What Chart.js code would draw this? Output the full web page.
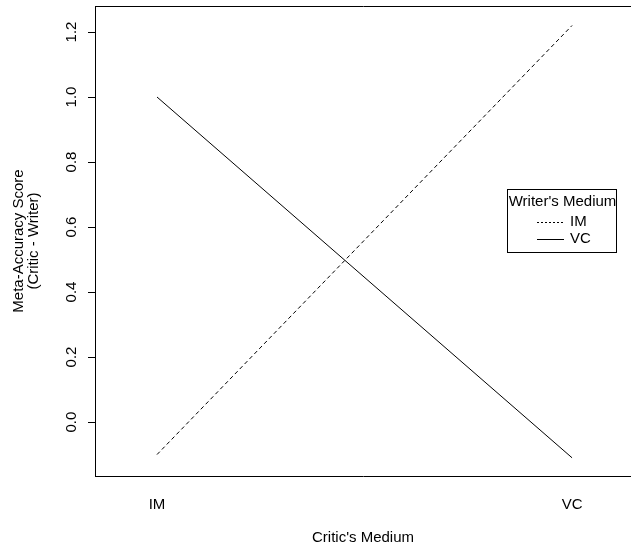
<!DOCTYPE html>
<html>
<head>
<meta charset="utf-8">
<script src="https://cdn.jsdelivr.net/npm/chart.js@4/dist/chart.umd.min.js"></script>
<style>
  html, body { margin: 0; padding: 0; background: #fff; overflow: hidden; }
  #wrap { width: 631px; height: 548px; }
</style>
</head>
<body>
<div id="wrap"><canvas id="myChart" width="631" height="548"></canvas></div>
<script>
// 데이터
const criticMedium = ['IM', 'VC'];
const writerMedium = ['IM', 'VC'];
const scoreWriterIM = [-0.10, 1.22];
const scoreWriterVC = [1.00, -0.11];
const yTicks = [0.0, 0.2, 0.4, 0.6, 0.8, 1.0, 1.2];

const FONT = 'Liberation Sans, Arial, Helvetica, sans-serif';

function toPoints(values) {
    return values.map((v, i) => ({ x: i + 1, y: v }));
}

// 범례 (플롯 안쪽 박스)
const boxLegend = {
    id: 'boxLegend',
    afterDraw(chart) {
        const c = chart.ctx;
        const x0 = 507, y0 = 189, w = 109, h = 63;
        c.save();
        c.fillStyle = '#fff';
        c.fillRect(x0, y0, w, h);
        c.strokeStyle = '#000';
        c.lineWidth = 1;
        c.strokeRect(x0 + 0.5, y0 + 0.5, w, h);
        c.fillStyle = '#000';
        c.font = '15px ' + FONT;
        c.textBaseline = 'middle';
        c.textAlign = 'center';
        c.fillText("Writer's Medium", x0 + w / 2 + 1, 202);
        c.textAlign = 'left';
        chart.data.datasets.forEach((ds, i) => {
            const y = 221.5 + i * 17;
            c.beginPath();
            c.setLineDash(ds.borderDash && ds.borderDash.length ? [2, 2] : []);
            c.moveTo(537, Math.round(y) + 0.5);
            c.lineTo(564, Math.round(y) + 0.5);
            c.stroke();
            c.setLineDash([]);
            c.fillText(ds.label, 570, y);
        });
        c.restore();
    }
};

const ctx = document.getElementById('myChart').getContext('2d');
const myChart = new Chart(ctx, {
    type: 'line',
    data: {
        datasets: [{
            label: writerMedium[0],
            data: toPoints(scoreWriterIM),
            borderColor: '#000',
            borderWidth: 1,
            borderDash: [4, 3],
            pointRadius: 0,
            fill: false
        }, {
            label: writerMedium[1],
            data: toPoints(scoreWriterVC),
            borderColor: '#000',
            borderWidth: 1,
            pointRadius: 0,
            fill: false
        }]
    },
    options: {
        responsive: false,
        animation: false,
        events: [],
        layout: { padding: 0, autoPadding: false },
        plugins: {
            legend: { display: false },
            tooltip: { enabled: false }
        },
        scales: {
            x: {
                type: 'linear',
                position: 'bottom',
                min: 0.8506,
                max: 2.142,
                afterFit: s => { s.height = 72; s.paddingLeft = 0; s.paddingRight = 0; },
                afterBuildTicks: s => { s.ticks = criticMedium.map((_, i) => ({ value: i + 1 })); },
                grid: { display: false },
                border: { display: true, color: '#000', width: 1 },
                ticks: {
                    color: '#000',
                    font: { family: FONT, size: 15 },
                    padding: 12,
                    maxRotation: 0,
                    autoSkip: false,
                    callback: v => criticMedium[Math.round(v) - 1]
                },
                title: {
                    display: true,
                    text: "Critic's Medium",
                    color: '#000',
                    font: { family: FONT, size: 15 },
                    padding: { top: 0, bottom: 1 }
                }
            },
            x2: {
                type: 'linear',
                position: 'top',
                min: 0.8506,
                max: 2.142,
                afterFit: s => { s.height = 6; },
                grid: { display: false },
                border: { display: true, color: '#000', width: 1 },
                ticks: { display: false }
            },
            y: {
                min: -0.166,
                max: 1.28,
                afterFit: s => { s.width = 95; s.paddingTop = 0; s.paddingBottom = 0; },
                afterBuildTicks: s => { s.ticks = yTicks.map(v => ({ value: v })); },
                grid: {
                    display: true,
                    drawOnChartArea: false,
                    drawTicks: true,
                    tickLength: 7,
                    color: '#000'
                },
                border: { display: true, color: '#000', width: 1 },
                ticks: {
                    color: '#000',
                    font: { family: FONT, size: 15 },
                    minRotation: 90,
                    maxRotation: 90,
                    crossAlign: 'center',
                    padding: 6,
                    autoSkip: false,
                    callback: v => v.toFixed(1)
                },
                title: {
                    display: true,
                    text: ['Meta-Accuracy Score', '(Critic - Writer)'],
                    color: '#000',
                    font: { family: FONT, size: 15, lineHeight: 1 },
                    padding: { top: 11, bottom: 0 }
                }
            }
        }
    },
    plugins: [boxLegend]
});
</script>
</body>
</html>
